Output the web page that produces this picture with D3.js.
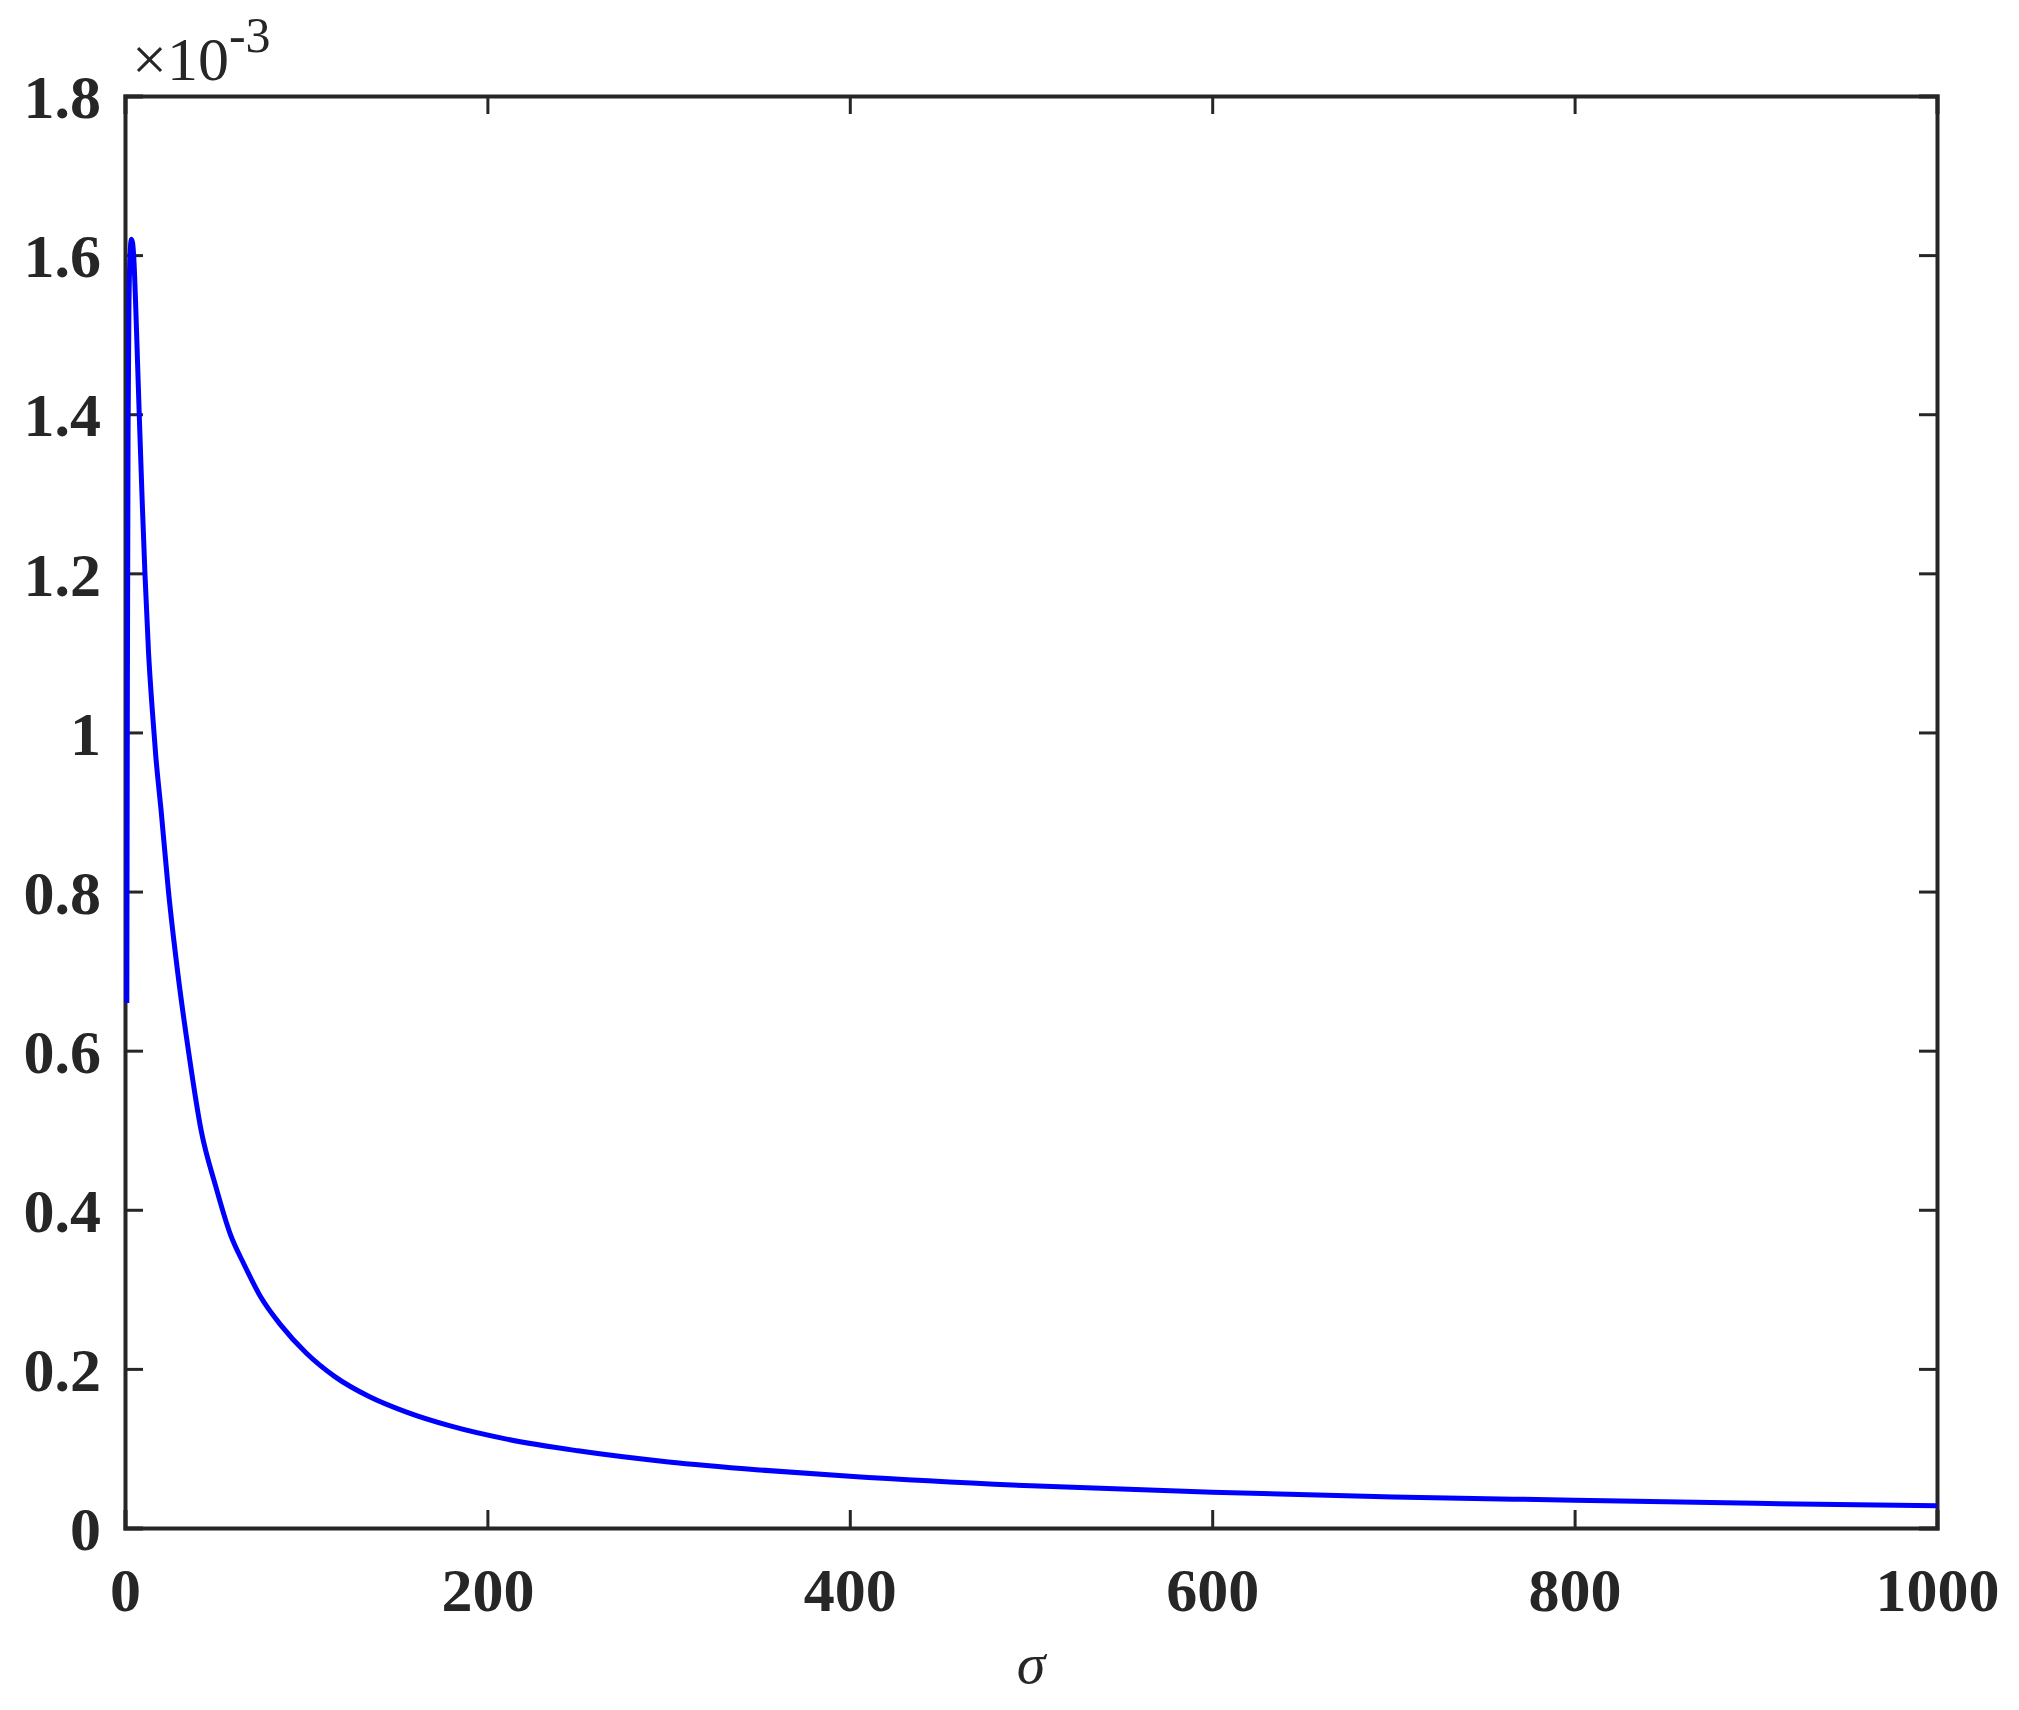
<!DOCTYPE html>
<html>
<head>
<meta charset="utf-8">
<script src="https://cdn.jsdelivr.net/npm/d3@7"></script>
<style>
body { margin: 0; background: #fff; }
text { font-family: "Liberation Serif", "Times New Roman", serif; fill: #262626; }
</style>
</head>
<body>
<div id="chart"></div>
<script>
// curve (values in units of 1e-3)
var sigma = [1, 1.3, 1.7, 2.2, 2.8, 3.5, 4.2, 5, 6, 7, 8, 9.5, 11, 13, 15, 17, 20, 24, 29, 35, 42, 50, 58, 66, 75, 86, 100, 116, 135, 155, 180, 210, 250, 300, 350, 400, 500, 600, 700, 800, 900, 1000];
var yval  = [0.66, 1.05, 1.38, 1.54, 1.60, 1.62, 1.615, 1.59, 1.53, 1.46, 1.39, 1.29, 1.2, 1.1, 1.03, 0.97, 0.9, 0.8, 0.7, 0.6, 0.5, 0.43, 0.37, 0.33, 0.29, 0.255, 0.22, 0.19, 0.165, 0.146, 0.128, 0.112, 0.097, 0.083, 0.073, 0.065, 0.053, 0.045, 0.039, 0.035, 0.031, 0.028];
var xTicks = [0, 200, 400, 600, 800, 1000];
var yTicks = [0, 0.2, 0.4, 0.6, 0.8, 1, 1.2, 1.4, 1.6, 1.8];

var svgWidth = 2019, svgHeight = 1710;
var margin = { top: 96, right: 82, bottom: 182, left: 125 };
var width = svgWidth - margin.left - margin.right;
var height = svgHeight - margin.top - margin.bottom;

var svg = d3.select("#chart").append("svg")
  .attr("width", svgWidth).attr("height", svgHeight);
var g = svg.append("g").attr("transform", `translate(${margin.left}, ${margin.top})`);

var x = d3.scaleLinear().domain([0, 1000]).range([0, width]);
var y = d3.scaleLinear().domain([0, 1.8]).range([height, 0]);

var fmt = d => d3.format("")(+d.toFixed(1));

// axes, ticks pointing inward
var axBottom = g.append("g").attr("transform", `translate(0, ${height})`)
  .call(d3.axisBottom(x).tickValues(xTicks).tickSize(-18).tickPadding(40).tickFormat(fmt));
var axTop = g.append("g")
  .call(d3.axisTop(x).tickValues(xTicks).tickSize(-18).tickFormat(""));
var axLeft = g.append("g")
  .call(d3.axisLeft(y).tickValues(yTicks).tickSize(-18).tickPadding(24).tickFormat(fmt));
var axRight = g.append("g").attr("transform", `translate(${width}, 0)`)
  .call(d3.axisRight(y).tickValues(yTicks).tickSize(-18).tickFormat(""));

[axBottom, axTop, axLeft, axRight].forEach(a => {
  a.selectAll("path.domain").attr("stroke", "#262626").attr("stroke-width", 4);
  a.selectAll("line").attr("stroke", "#262626").attr("stroke-width", 3);
  a.selectAll("text").style("font-size", "62px").style("font-weight", "bold")
    .style("font-family", "'Liberation Serif', serif").attr("fill", "#262626");
});
axLeft.selectAll("text").attr("dy", "0.35em");
axBottom.selectAll("text").attr("dy", "0.7em");

// line
var line = d3.line().x((d, i) => x(sigma[i])).y(d => y(d)).curve(d3.curveMonotoneX);
g.append("path").datum(yval)
  .attr("d", line)
  .attr("fill", "none")
  .attr("stroke", "#0000ff")
  .attr("stroke-width", 5);

// x label
svg.append("text")
  .attr("x", margin.left + width / 2)
  .attr("y", 1683)
  .attr("text-anchor", "middle")
  .style("font-size", "58px")
  .style("font-style", "italic")
  .text("σ");

// exponent
var ex = svg.append("text").attr("x", 132).attr("y", 80).style("font-size", "62px");
ex.append("tspan").text("×10");
ex.append("tspan").attr("dy", -28).style("font-size", "50px").text("-3");
</script>
</body>
</html>
